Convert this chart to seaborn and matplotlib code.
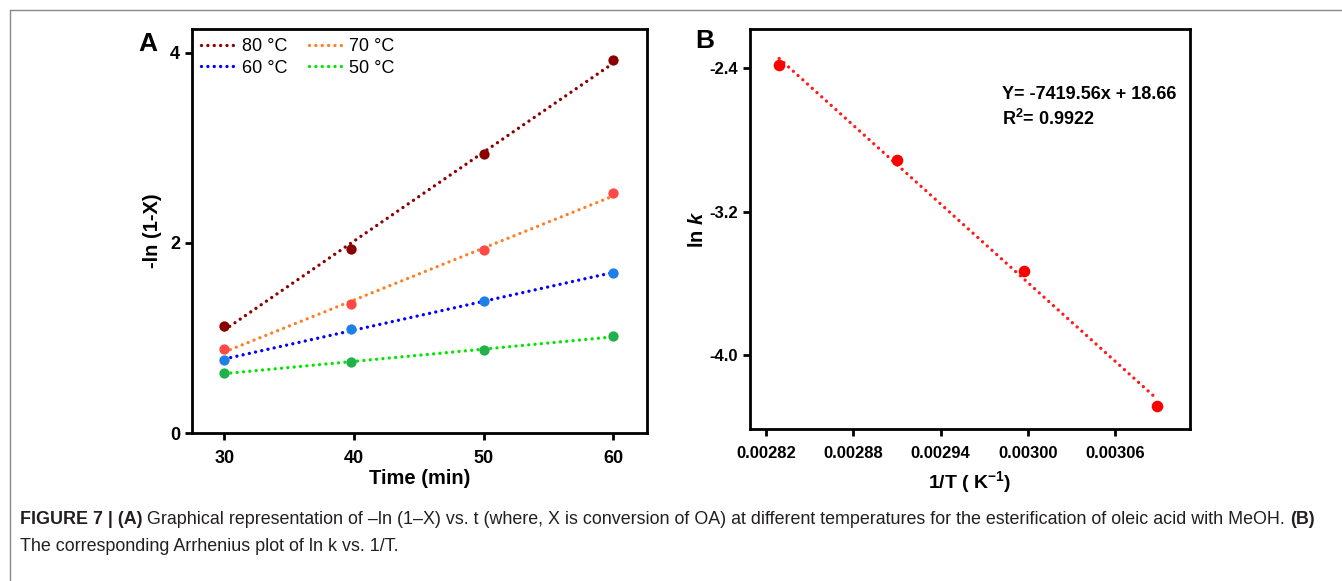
import numpy as np
import pandas as pd
import matplotlib
matplotlib.use('Agg')
import matplotlib.pyplot as plt
from matplotlib.lines import Line2D
import seaborn as sbn

# Panel A data: -ln(1-X) vs time at four temperatures
time_min = [30, 39.8, 50, 60]
temps = ['80 °C', '70 °C', '60 °C', '50 °C']
y_80 = [1.13, 1.94, 2.94, 3.92]
y_70 = [0.88, 1.36, 1.92, 2.52]
y_60 = [0.765, 1.095, 1.39, 1.68]
y_50 = [0.63, 0.75, 0.87, 1.02]

line_colors = ['#8B0000', '#FF7F27', '#0000FF', '#00E600']
point_colors = ['#8B0000', '#FF4848', '#1E7FE6', '#22B04C']

# Panel B data: Arrhenius plot
inv_T = [0.002829, 0.002910, 0.002997, 0.003089]
ln_k = [-2.378, -2.909, -3.53, -4.28]

sbn.set_style('ticks')
plt.rcParams['font.family'] = ['Liberation Sans', 'DejaVu Sans']
plt.rcParams['text.color'] = 'black'
plt.rcParams['axes.labelcolor'] = 'black'
plt.rcParams['mathtext.fontset'] = 'custom'
plt.rcParams['mathtext.rm'] = 'Liberation Sans:bold'
plt.rcParams['mathtext.it'] = 'Liberation Sans:italic:bold'
plt.rcParams['mathtext.bf'] = 'Liberation Sans:bold'

dots = (0, (0.01, 1.9))

fig = plt.figure(figsize=(13.42, 5.81), dpi=100)
ax_a = fig.add_axes([0.1431, 0.2547, 0.3390, 0.6954])
ax_b = fig.add_axes([0.5589, 0.2616, 0.3279, 0.6885])

df_a = pd.DataFrame({'time': time_min * 4,
                     'value': y_80 + y_70 + y_60 + y_50,
                     'temp': np.repeat(temps, len(time_min))})

for i, t in enumerate(temps):
    sub = df_a[df_a['temp'] == t]
    sbn.regplot(data=sub, x='time', y='value', ax=ax_a, ci=None, truncate=True,
                scatter_kws=dict(color=point_colors[i], s=55, zorder=3, linewidths=0, alpha=1),
                line_kws=dict(color=line_colors[i], ls=dots, lw=2.4, label=t,
                              dash_capstyle='round'))

ax_a.set_xlim(27.5, 62.6)
ax_a.set_ylim(0, 4.25)
ax_a.set_xticks([30, 40, 50, 60])
ax_a.set_yticks([0, 2, 4])
ax_a.set_xlabel('Time (min)', fontsize=14.5, fontweight='bold', labelpad=2)
ax_a.set_ylabel('-ln (1-X)', fontsize=14.5, fontweight='bold', labelpad=6)

handles, labels = ax_a.get_legend_handles_labels()
order = [0, 2, 1, 3]
ax_a.legend([handles[k] for k in order], [labels[k] for k in order], ncol=2,
            loc='upper left', frameon=False, fontsize=13, handlelength=1.8,
            columnspacing=1.2, borderaxespad=0.2, handletextpad=0.45,
            labelspacing=0.25, borderpad=0.3)

# Panel B
sbn.regplot(x=inv_T, y=ln_k, ax=ax_b, ci=None, truncate=True,
            scatter_kws=dict(color='#FF0000', s=70, zorder=3, linewidths=0, alpha=1),
            line_kws=dict(color='#FF1A1A', ls=dots, lw=2.4, dash_capstyle='round'))
ax_b.set_xlim(0.002809, 0.0031115)
ax_b.set_ylim(-4.41, -2.18)
ax_b.set_xticks([0.00282, 0.00288, 0.00294, 0.00300, 0.00306])
ax_b.set_xticklabels(['0.00282', '0.00288', '0.00294', '0.00300', '0.00306'])
ax_b.set_yticks([-2.4, -3.2, -4.0])
ax_b.set_yticklabels(['-2.4', '-3.2', '-4.0'])
ax_b.set_xlabel('1/T ( K$^{-1}$)', fontsize=14, fontweight='bold', labelpad=6)
ax_b.set_ylabel('ln $k$', fontsize=14.5, fontweight='bold', labelpad=2)
ax_b.text(0.573, 0.835, 'Y= -7419.56x + 18.66', transform=ax_b.transAxes,
          fontsize=13, fontweight='bold', va='center')
ax_b.text(0.573, 0.775, 'R$^{2}$= 0.9922', transform=ax_b.transAxes,
          fontsize=13, fontweight='bold', va='center')

for ax in (ax_a, ax_b):
    for sp in ax.spines.values():
        sp.set_visible(True)
        sp.set_linewidth(2)
        sp.set_color('black')
    ax.tick_params(width=2, length=5, direction='out', colors='black')
    ax.tick_params(axis='x', pad=7)
for lab in ax_a.get_xticklabels() + ax_a.get_yticklabels():
    lab.set_fontsize(13)
    lab.set_fontweight('bold')
for lab in ax_b.get_xticklabels() + ax_b.get_yticklabels():
    lab.set_fontsize(12)
    lab.set_fontweight('bold')

fig.text(0.103, 0.925, 'A', fontsize=19, fontweight='bold', va='center')
fig.text(0.518, 0.93, 'B', fontsize=19, fontweight='bold', va='center')

# gray frame lines (top and left)
fig.add_artist(Line2D([10 / 1342, 1], [1 - 10 / 581, 1 - 10 / 581], color='#888888', lw=1))
fig.add_artist(Line2D([10 / 1342, 10 / 1342], [0, 1 - 10 / 581], color='#888888', lw=1))

# caption
cap_size = 12.9
cap_color = '#231f20'
t1 = fig.text(20 / 1342, 1 - 528 / 581, 'FIGURE 7 | (A)', fontsize=cap_size,
              fontweight='bold', color=cap_color, va='bottom')
t2 = ax_a.annotate(' Graphical representation of \u2013ln (1\u2013X) vs. t (where, X is conversion of OA) '
                   'at different temperatures for the esterification of oleic acid with MeOH. ',
                   xy=(1, 0), xycoords=t1, va='bottom', ha='left', fontsize=cap_size,
                   color=cap_color, annotation_clip=False)
ax_a.annotate('(B)', xy=(1, 0), xycoords=t2, va='bottom', ha='left', fontsize=cap_size,
              fontweight='bold', color=cap_color, annotation_clip=False)
fig.text(20 / 1342, 1 - 555 / 581, 'The corresponding Arrhenius plot of ln k vs. 1/T.',
         fontsize=cap_size, color=cap_color, va='bottom')

fig.savefig('out.png', dpi=100)
